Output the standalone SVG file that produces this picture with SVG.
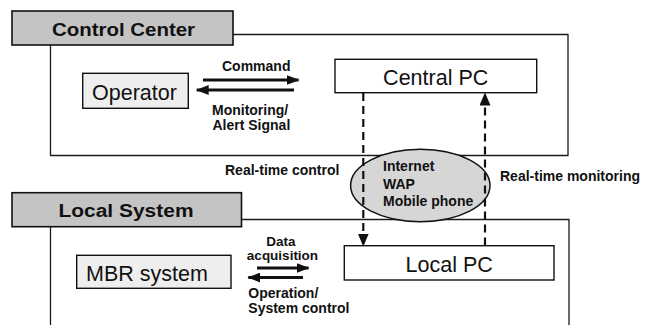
<svg xmlns="http://www.w3.org/2000/svg" width="649" height="325" viewBox="0 0 649 325">
  <style>
    .frame { fill: none; stroke: #1a1a1a; stroke-width: 1.3; }
    .tab { fill: #c4c4c4; stroke: #111; stroke-width: 1.6; }
    .box { fill: #ffffff; stroke: #111; stroke-width: 1.4; }
    .box.grey { fill: #eeeeee; }
    .cloud { fill: #d6d6d6; stroke: #111; stroke-width: 1.5; }
    .tabtext { font-family: "Liberation Sans", Arial, sans-serif; font-size: 17.5px; font-weight: bold; fill: #111; }
    .nodetext { font-family: "Liberation Sans", Arial, sans-serif; font-size: 21.5px; fill: #111; }
    .label { font-family: "Liberation Sans", Arial, sans-serif; font-size: 14px; font-weight: bold; fill: #111; }
    .label.small { font-size: 13.5px; }
    .flow { fill: none; stroke: #111; stroke-width: 2.8; }
    .dash { fill: none; stroke: #111; stroke-width: 2.2; stroke-dasharray: 8 5; }
  </style>
  <defs>
    <marker id="head" markerUnits="userSpaceOnUse" markerWidth="13" markerHeight="10" refX="12" refY="5" orient="auto">
      <path d="M0,0 L13,5 L0,10 Z" fill="#111"/>
    </marker>
    <marker id="dhead" markerUnits="userSpaceOnUse" markerWidth="13" markerHeight="11" refX="12" refY="5.5" orient="auto">
      <path d="M0,0 L13,5.5 L0,11 Z" fill="#111"/>
    </marker>
  </defs>

  <rect width="649" height="325" fill="#ffffff"/>

  <!-- Control Center area -->
  <g id="control-center">
    <path class="frame" d="M233,34.5 H568 V155.5 H50.5 V45"/>
    <rect class="tab" x="12" y="11" width="221" height="34"/>
    <text class="tabtext" x="52" y="35.5" textLength="143" lengthAdjust="spacingAndGlyphs">Control Center</text>
  </g>

  <!-- Local System area -->
  <g id="local-system">
    <path class="frame" d="M241.5,219.5 H569 V325 M50.5,226.5 V325"/>
    <rect class="tab" x="12" y="192.7" width="229.5" height="34"/>
    <text class="tabtext" x="58.5" y="216.7" textLength="135" lengthAdjust="spacingAndGlyphs">Local System</text>
  </g>

  <g id="operator">
    <rect class="box grey" x="82.7" y="73.3" width="105.6" height="35"/>
    <text class="nodetext" x="134.5" y="100" text-anchor="middle">Operator</text>
  </g>

  <g id="central-pc">
    <rect class="box" x="335" y="59.3" width="201.7" height="33.4"/>
    <text class="nodetext" x="435.7" y="84.5" text-anchor="middle">Central PC</text>
  </g>

  <g id="network">
    <ellipse class="cloud" cx="420.3" cy="185.5" rx="69.7" ry="36.2"/>
    <text class="label" x="383" y="171">Internet</text>
    <text class="label" x="383" y="189">WAP</text>
    <text class="label" x="383" y="206">Mobile phone</text>
  </g>

  <g id="mbr-system">
    <rect class="box grey" x="76.7" y="255.3" width="154.3" height="33"/>
    <text class="nodetext" x="86" y="280.7">MBR system</text>
  </g>

  <g id="local-pc">
    <rect class="box" x="344.3" y="245.7" width="209.7" height="34.3"/>
    <text class="nodetext" x="449.2" y="271.7" text-anchor="middle">Local PC</text>
  </g>

  <!-- connectors -->
  <g id="connectors">
    <line class="flow" x1="203" y1="80" x2="298.5" y2="80" marker-end="url(#head)"/>
    <line class="flow" x1="294" y1="90" x2="196.7" y2="90" marker-end="url(#head)"/>
    <line class="flow" x1="257" y1="268" x2="308.5" y2="268" marker-end="url(#head)"/>
    <line class="flow" x1="303" y1="277.5" x2="248.3" y2="277.5" marker-end="url(#head)"/>
    <line class="dash" x1="363.3" y1="93" x2="363.3" y2="245.5" marker-end="url(#dhead)"/>
    <line class="dash" x1="485" y1="245.5" x2="485" y2="93.5" marker-end="url(#dhead)"/>
  </g>

  <!-- connector labels -->
  <g id="labels">
    <text class="label" x="222" y="70.5">Command</text>
    <text class="label" x="212" y="114.5">Monitoring/</text>
    <text class="label" x="212.5" y="129.5">Alert Signal</text>
    <text class="label" x="225" y="175">Real-time control</text>
    <text class="label" x="500" y="180.5">Real-time monitoring</text>
    <text class="label small" x="281" y="246" text-anchor="middle">Data</text>
    <text class="label small" x="282.5" y="260" text-anchor="middle">acquisition</text>
    <text class="label" x="248.3" y="298.3">Operation/</text>
    <text class="label" x="248.3" y="313.3">System control</text>
  </g>
</svg>
